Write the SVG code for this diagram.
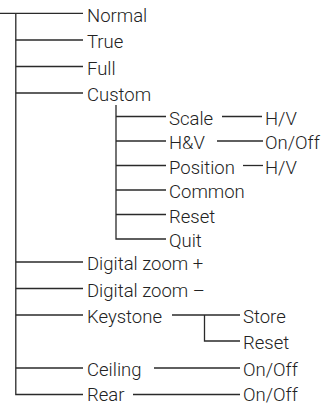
<svg xmlns="http://www.w3.org/2000/svg" width="326" height="406" viewBox="0 0 326 406">
<style>
.c line, .c path { stroke:#2a2a2a; stroke-width:1.3; fill:none; }
text { font-family:Roboto, "Liberation Sans", Arial, sans-serif; font-weight:300; font-size:18.5px; fill:#222; }
</style>
<rect width="326" height="406" fill="#fff"/>
<g class="c" id="connectors">
  <path d="M0 13.3 H83 M15.8 13.3 V394.5 H83"/>
  <line x1="15.8" y1="40" x2="83" y2="40"/>
  <line x1="15.8" y1="66.5" x2="83" y2="66.5"/>
  <line x1="15.8" y1="93" x2="83" y2="93"/>
  <line x1="15.8" y1="262" x2="83" y2="262"/>
  <line x1="15.8" y1="288.5" x2="83" y2="288.5"/>
  <line x1="15.8" y1="315" x2="83" y2="315"/>
  <line x1="15.8" y1="368" x2="83" y2="368"/>
  <path d="M116 105 V239 H166"/>
  <line x1="116" y1="116.5" x2="166" y2="116.5"/>
  <line x1="116" y1="141" x2="166" y2="141"/>
  <line x1="116" y1="165.5" x2="166" y2="165.5"/>
  <line x1="116" y1="190" x2="166" y2="190"/>
  <line x1="116" y1="214.5" x2="166" y2="214.5"/>
  <line x1="222" y1="116.5" x2="262" y2="116.5"/>
  <line x1="217" y1="141" x2="263" y2="141"/>
  <line x1="243" y1="165.5" x2="263" y2="165.5"/>
  <line x1="172" y1="315" x2="240" y2="315"/>
  <path d="M204.5 315 V341 H240"/>
  <line x1="154" y1="368" x2="240" y2="368"/>
  <line x1="133" y1="394.5" x2="240" y2="394.5"/>
</g>
<g id="normal"><text x="87" y="21.7">Normal</text></g>
<g id="true"><text x="87" y="48.4">True</text></g>
<g id="full"><text x="87" y="74.9">Full</text></g>
<g id="custom"><text x="87" y="101.4">Custom</text></g>
<g id="scale"><text x="169" y="124.9">Scale</text></g>
<g id="scale-hv"><text x="265" y="124.9">H/V</text></g>
<g id="hv"><text x="169" y="149.4">H&amp;V</text></g>
<g id="hv-onoff"><text x="265" y="149.4">On/Off</text></g>
<g id="position"><text x="169" y="173.9">Position</text></g>
<g id="position-hv"><text x="265" y="173.9">H/V</text></g>
<g id="common"><text x="169" y="198.4">Common</text></g>
<g id="reset-c"><text x="169" y="222.9">Reset</text></g>
<g id="quit"><text x="169" y="247.4">Quit</text></g>
<g id="dzoom-plus"><text x="87" y="270.4">Digital zoom +</text></g>
<g id="dzoom-minus"><text x="87" y="296.9">Digital zoom –</text></g>
<g id="keystone"><text x="87" y="323.4">Keystone</text></g>
<g id="store"><text x="243" y="323.4">Store</text></g>
<g id="reset-k"><text x="243" y="349.4">Reset</text></g>
<g id="ceiling"><text x="87" y="376.4">Ceiling</text></g>
<g id="ceiling-onoff"><text x="243" y="376.4">On/Off</text></g>
<g id="rear"><text x="87" y="400.9">Rear</text></g>
<g id="rear-onoff"><text x="243" y="400.9">On/Off</text></g>
</svg>
